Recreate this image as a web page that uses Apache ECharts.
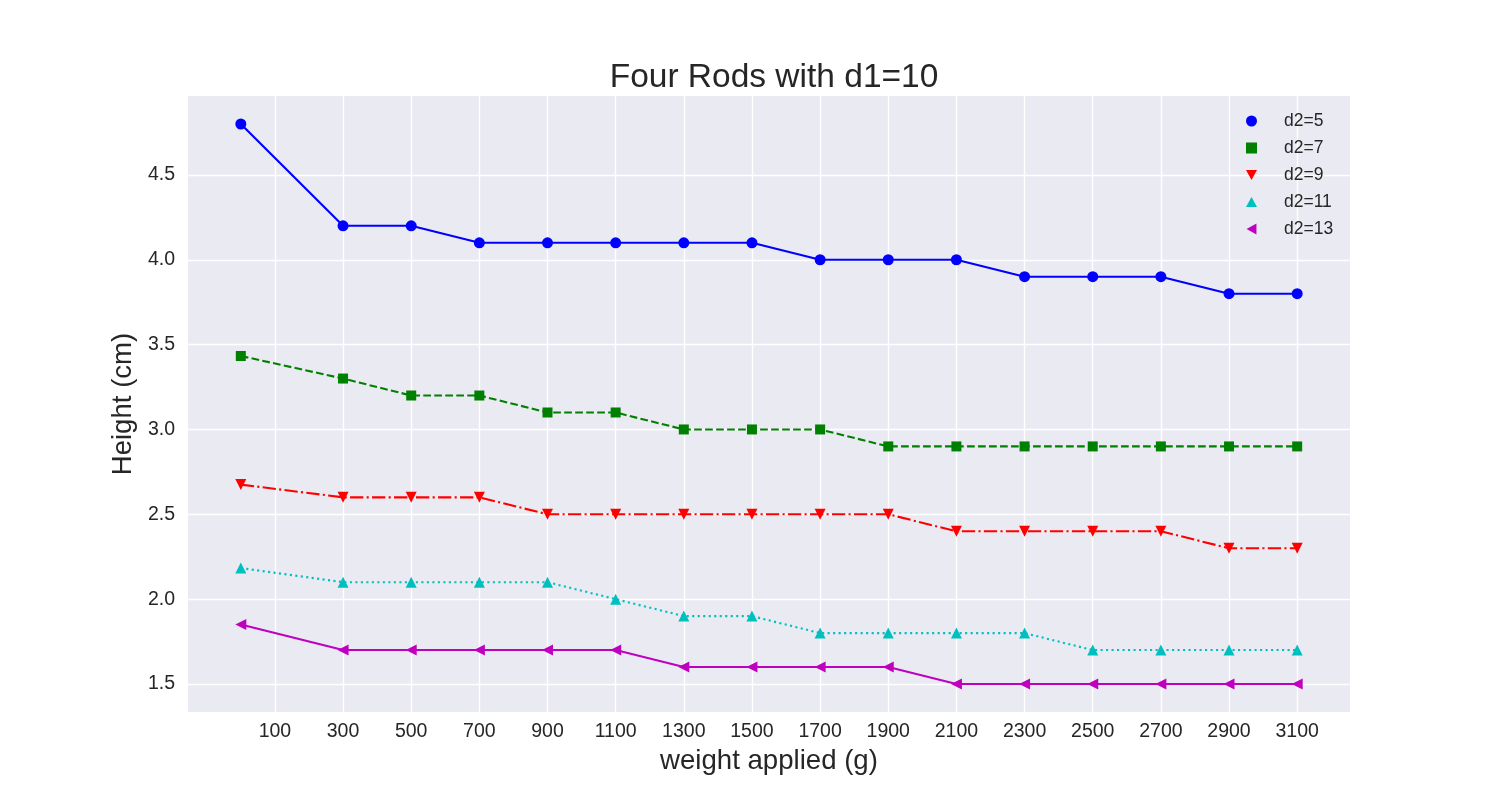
<!DOCTYPE html>
<html><head><meta charset="utf-8">
<script src="https://cdn.jsdelivr.net/npm/echarts@6/dist/echarts.min.js"></script>
<style>html,body{margin:0;padding:0;background:#fff}#c{width:1500px;height:800px}</style>
</head><body><div id="c"></div>
<script>
const weights = [0, 300, 500, 700, 900, 1100, 1300, 1500, 1700, 1900, 2100, 2300, 2500, 2700, 2900, 3100];
const xTicks = [100, 300, 500, 700, 900, 1100, 1300, 1500, 1700, 1900, 2100, 2300, 2500, 2700, 2900, 3100];
const yTicks = [1.5, 2.0, 2.5, 3.0, 3.5, 4.0, 4.5];
const seriesNames = ['d2=5', 'd2=7', 'd2=9', 'd2=11', 'd2=13'];
const d2_5  = [4.8, 4.2, 4.2, 4.1, 4.1, 4.1, 4.1, 4.1, 4.0, 4.0, 4.0, 3.9, 3.9, 3.9, 3.8, 3.8];
const d2_7  = [3.433, 3.3, 3.2, 3.2, 3.1, 3.1, 3.0, 3.0, 3.0, 2.9, 2.9, 2.9, 2.9, 2.9, 2.9, 2.9];
const d2_9  = [2.675, 2.6, 2.6, 2.6, 2.5, 2.5, 2.5, 2.5, 2.5, 2.5, 2.4, 2.4, 2.4, 2.4, 2.3, 2.3];
const d2_11 = [2.183, 2.1, 2.1, 2.1, 2.1, 2.0, 1.9, 1.9, 1.8, 1.8, 1.8, 1.8, 1.7, 1.7, 1.7, 1.7];
const d2_13 = [1.85, 1.7, 1.7, 1.7, 1.7, 1.7, 1.6, 1.6, 1.6, 1.6, 1.5, 1.5, 1.5, 1.5, 1.5, 1.5];

const FONT = '"Liberation Sans", Arial, sans-serif';
const TXT = '#262626';
const icons = {
  circle: 'circle',
  square: 'rect',
  down: 'path://M0,0 L10,0 L5,9 Z',
  up: 'path://M5,0 L10,9 L0,9 Z',
  left: 'path://M0,5 L9,0 L9,10 Z'
};
const styles = [
  {data: d2_5, color: '#0000ff', type: 'solid', icon: icons.circle, size: 11},
  {data: d2_7, color: '#008000', type: [7.7, 3.3], icon: icons.square, size: 10},
  {data: d2_9, color: '#ff0000', type: [13.3, 3.3, 2.1, 3.3], icon: icons.down, size: 11},
  {data: d2_11, color: '#00bfbf', type: [2.1, 3.4], icon: icons.up, size: 11},
  {data: d2_13, color: '#bf00bf', type: 'solid', icon: icons.left, size: 11}
];

const series = styles.map((s, i) => ({
  name: seriesNames[i],
  type: 'line',
  data: weights.map((w, j) => [w, s.data[j]]),
  symbol: s.icon,
  symbolSize: s.size,
  showAllSymbol: true,
  itemStyle: {color: s.color},
  lineStyle: {color: s.color, width: 2.1, type: s.type},
  emphasis: {disabled: true},
  animation: false,
  z: 3
}));

const chart = echarts.init(document.getElementById('c'), null, {renderer: 'canvas'});
chart.setOption({
  backgroundColor: '#ffffff',
  animation: false,
  title: {
    text: 'Four Rods with d1=10',
    left: 769, top: 56, textAlign: 'center',
    textStyle: {fontFamily: FONT, fontSize: 33.5, fontWeight: 'normal', color: TXT}
  },
  legend: {
    orient: 'vertical',
    left: 1241, top: 107,
    itemWidth: 11, itemHeight: 11, itemGap: 9,
    textStyle: {fontFamily: FONT, fontSize: 17.5, lineHeight: 18, color: TXT, padding: [0, 0, 0, 22]},
    data: styles.map((s, i) => ({name: seriesNames[i], icon: s.icon, itemStyle: {color: s.color}}))
  },
  grid: {left: 188, right: 150, top: 96, bottom: 88, show: true, backgroundColor: '#eaeaf2', borderWidth: 0},
  xAxis: {
    type: 'value', min: -155, max: 3255,
    name: 'weight applied (g)', nameLocation: 'middle', nameGap: 25,
    nameTextStyle: {fontFamily: FONT, fontSize: 27.6, color: TXT},
    axisLine: {show: false}, axisTick: {show: false, customValues: xTicks},
    axisLabel: {customValues: xTicks, fontFamily: FONT, fontSize: 19.5, color: TXT, margin: 10,
      formatter: v => String(v)},
    splitLine: {show: true, lineStyle: {color: '#ffffff', width: 1.4}}
  },
  yAxis: {
    type: 'value', min: 1.335, max: 4.965,
    name: 'Height (cm)', nameLocation: 'middle', nameGap: 42,
    nameTextStyle: {fontFamily: FONT, fontSize: 27.6, color: TXT},
    axisLine: {show: false}, axisTick: {show: false, customValues: yTicks},
    axisLabel: {customValues: yTicks, fontFamily: FONT, fontSize: 19.5, color: TXT, margin: 13,
      padding: [4, 0, 0, 0], formatter: v => v.toFixed(1)},
    splitLine: {show: true, lineStyle: {color: '#ffffff', width: 1.4}}
  },
  series: series
});
</script></body></html>
